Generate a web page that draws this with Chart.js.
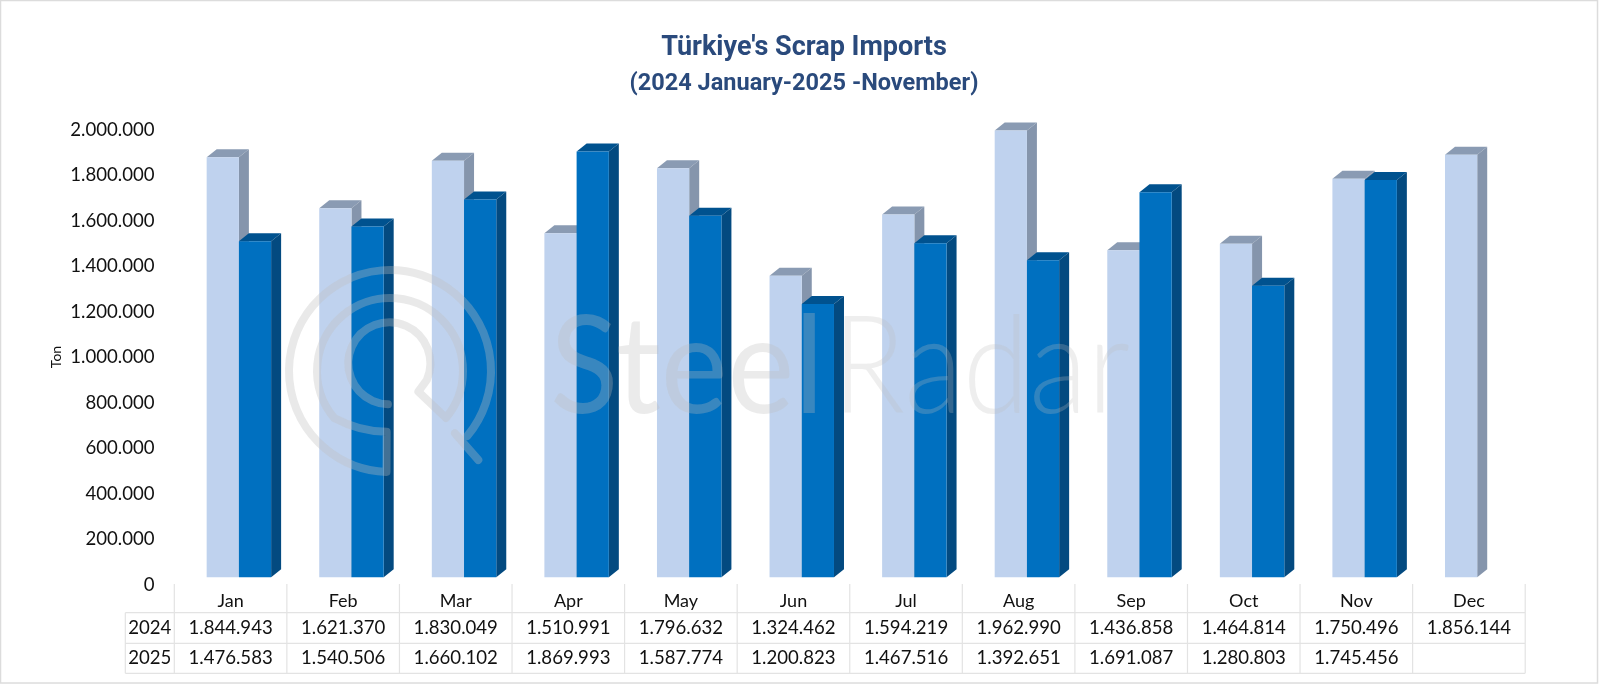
<!DOCTYPE html>
<html>
<head>
<meta charset="utf-8">
<style>html,body{margin:0;padding:0;background:#fff}canvas{display:block}</style>
<script src="https://cdn.jsdelivr.net/npm/chart.js@4"></script>
</head>
<body>
<canvas id="c" width="1600" height="685"></canvas>
<script>
const categories = ['Jan','Feb','Mar','Apr','May','Jun','Jul','Aug','Sep','Oct','Nov','Dec'];
const values2024 = [1844943,1621370,1830049,1510991,1796632,1324462,1594219,1962990,1436858,1464814,1750496,1856144];
const values2025 = [1476583,1540506,1660102,1869993,1587774,1200823,1467516,1392651,1691087,1280803,1745456,null];
const seriesNames = ['2024','2025'];
const titleText = "Türkiye's Scrap Imports";
const subtitleText = "(2024 January-2025 -November)";

const FONT = 'Lato, Carlito, sans-serif';
const fmt = v => v == null ? '' : String(v).replace(/\B(?=(\d{3})+$)/g,'.');
const DEPTH_X = 10, DEPTH_Y = 8, TABLE_SHIFT = -8.3;
const faces = [
  {top:'#8a9bb3', side:'#8595ac'},
  {top:'#00528f', side:'#034a80'}
];

function drawFaces(chart,meta,f){
  const ctx = chart.ctx, base = chart.scales.y.getPixelForValue(0);
  const vals = chart.data.datasets[meta.index].data;
  meta.data.forEach((bar,i)=>{
    if(vals[i]==null) return;
    const p = bar.getProps(['x','y','width']);
    const l = p.x-p.width/2, r = p.x+p.width/2, t = p.y;
    ctx.fillStyle = f.top;
    ctx.beginPath();ctx.moveTo(l,t);ctx.lineTo(l+DEPTH_X,t-DEPTH_Y);ctx.lineTo(r+DEPTH_X,t-DEPTH_Y);ctx.lineTo(r,t);ctx.closePath();ctx.fill();
    ctx.fillStyle = f.side;
    ctx.beginPath();ctx.moveTo(r,t);ctx.lineTo(r+DEPTH_X,t-DEPTH_Y);ctx.lineTo(r+DEPTH_X,base-DEPTH_Y);ctx.lineTo(r,base);ctx.closePath();ctx.fill();
  });
}

function fitText(ctx,text,x,y,width){
  const w = ctx.measureText(text).width;
  ctx.save();ctx.translate(x,y);ctx.scale(width/w,1);ctx.fillText(text,0,0);ctx.restore();
}

function drawWatermark(ctx){
  ctx.save();
  const col = 'rgba(190,190,190,0.34)';
  const deg = d => d*Math.PI/180;
  const Z = (x,y) => [270+x/3,250+y/3];
  const [cx,cy] = Z(360,363);
  const [c3x,c3y] = Z(358,340);
  ctx.strokeStyle = col; ctx.lineWidth = 8; ctx.lineCap = 'round'; ctx.lineJoin = 'round';
  ctx.beginPath();
  ctx.arc(cx,cy,101,deg(40),deg(92),true);
  ctx.lineTo(...Z(350,545));
  ctx.quadraticCurveTo(...Z(270,545),cx+73*Math.cos(deg(140)),cy+73*Math.sin(deg(140)));
  ctx.arc(cx,cy,73,deg(140),deg(40),false);
  ctx.lineTo(...Z(445,425));
  ctx.arc(c3x,c3y,41,deg(24),deg(92),true);
  ctx.moveTo(...Z(555,550));
  ctx.lineTo(...Z(625,630));
  ctx.stroke();
  ctx.textBaseline = 'alphabetic'; ctx.textAlign = 'left';
  ctx.fillStyle = 'rgba(190,190,190,0.3)';
  ctx.font = '400 136px Lato, sans-serif';
  fitText(ctx,'Steel',550,413,274);
  ctx.font = '300 136px Lato, sans-serif';
  ctx.fillStyle = 'rgba(190,190,190,0.26)';
  fitText(ctx,'Radar',832,413,298);
  ctx.restore();
}

const cuboids = {
  id:'cuboids',
  beforeDatasetsDraw(chart){
    chart.getSortedVisibleDatasetMetas().forEach((meta,i)=>{
      drawFaces(chart,meta,faces[i]);
      meta.controller.draw();
    });
    drawWatermark(chart.ctx);
    return false;
  }
};

const dataTable = {
  id:'dataTable',
  afterDraw(chart){
    const ctx = chart.ctx, x = chart.scales.x;
    const rows = [584,612.7,643.3,673.3];
    const yearL = 125.3;
    const cellW = x.getPixelForTick(1)-x.getPixelForTick(0);
    const edge = i => x.getPixelForTick(0)+TABLE_SHIFT-cellW/2+i*cellW;
    ctx.save();
    ctx.strokeStyle = '#e3e3e3'; ctx.lineWidth = 1.2;
    ctx.beginPath();
    for(let i=0;i<=categories.length;i++){ctx.moveTo(edge(i),rows[0]);ctx.lineTo(edge(i),rows[3]);}
    rows.slice(1).forEach(y=>{ctx.moveTo(yearL,y);ctx.lineTo(edge(categories.length),y);});
    ctx.moveTo(yearL,rows[1]);ctx.lineTo(yearL,rows[3]);
    ctx.stroke();
    ctx.fillStyle = '#111';
    ctx.font = '18.6px '+FONT; ctx.textAlign='center'; ctx.textBaseline='middle';
    [values2024,values2025].forEach((vals,r)=>{
      const y = (rows[r+1]+rows[r+2])/2;
      ctx.fillText(seriesNames[r],(yearL+edge(0))/2,y);
      vals.forEach((v,i)=>ctx.fillText(fmt(v),edge(i)+cellW/2,y));
    });
    ctx.font = '14px '+FONT;
    ctx.translate(56,357);ctx.rotate(-Math.PI/2);
    ctx.fillText('Ton',0,0);
    ctx.restore();
    ctx.save();
    ctx.strokeStyle='#dcdcdc';ctx.lineWidth=1.5;
    ctx.strokeRect(0.5,0.5,1597,682.5);
    ctx.restore();
  }
};

new Chart(document.getElementById('c'),{
  type:'bar',
  data:{
    labels:categories,
    datasets:[
      {label:seriesNames[0],data:values2024,backgroundColor:'#bfd2ee'},
      {label:seriesNames[1],data:values2025,backgroundColor:'#0070c0'}
    ]
  },
  plugins:[cuboids,dataTable],
  options:{
    responsive:false,
    animation:false,
    events:[],
    layout:{padding:{left:8,right:0,top:0,bottom:0}},
    datasets:{bar:{barPercentage:1,categoryPercentage:0.5725,borderWidth:0}},
    plugins:{
      legend:{display:false},
      tooltip:{enabled:false},
      title:{
        display:true,
        text:titleText,
        color:'#2a4a7c',
        fullSize:true,
        font:{family:'Roboto, sans-serif',size:27,weight:'bold',lineHeight:1.2},
        padding:{top:31.8,bottom:0}
      },
      subtitle:{
        display:true,
        text:subtitleText,
        color:'#2a4a7c',
        fullSize:true,
        font:{family:'Roboto, sans-serif',size:23.5,weight:'bold',lineHeight:1.2},
        padding:{top:5.4,bottom:24.2}
      }
    },
    scales:{
      x:{
        grid:{display:false,drawTicks:false},
        border:{display:false},
        ticks:{color:'#111',font:{family:FONT,size:18,lineHeight:1},padding:15,labelOffset:TABLE_SHIFT,maxRotation:0,autoSkip:false},
        afterFit(s){s.height=107.7;}
      },
      y:{
        min:0,max:2000000,
        grid:{display:false,drawTicks:false},
        border:{display:false},
        ticks:{stepSize:200000,color:'#111',font:{family:FONT,size:18.6},padding:28,labelOffset:7.5,callback:v=>fmt(v)},
        afterFit(s){s.width=174.6;}
      },
      yRight:{
        position:'right',min:0,max:2000000,
        grid:{display:false,drawTicks:false},
        border:{display:false},
        ticks:{display:false},
        afterFit(s){s.width=66.5;}
      }
    }
  }
});
</script>
</body>
</html>
